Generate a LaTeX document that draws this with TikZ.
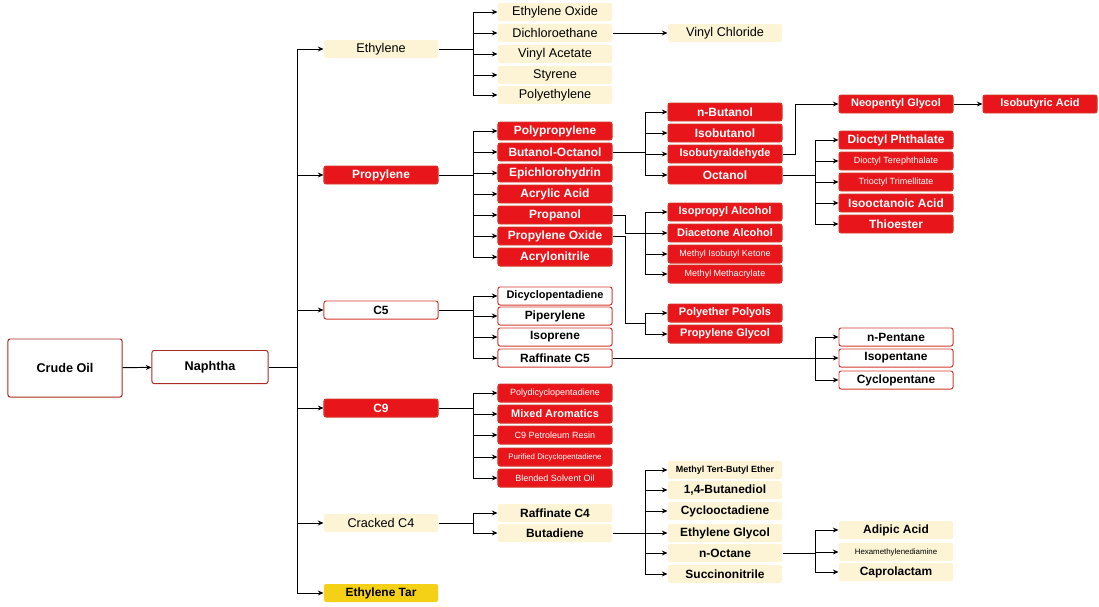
\documentclass[tikz,border=0pt]{standalone}
\usepackage{fontspec}
\setmainfont{Liberation Sans}
\usetikzlibrary{arrows.meta}
\definecolor{redfill}{HTML}{E8161B}
\definecolor{redline}{HTML}{D23A2E}
\definecolor{yelfill}{HTML}{FCF4D4}
\definecolor{goldfill}{HTML}{F4D016}
\newcommand\fm{\fontsize{7.8}{9}\selectfont}
\newcommand\fs{\fontsize{6.4}{7}\selectfont}
\newcommand\ft{\fontsize{5.6}{6}\selectfont}
\tikzset{
  box/.style={rounded corners=1.5pt, minimum width=2.85cm, minimum height=0.45cm,
    inner sep=1pt, font=\fontsize{9}{10}\selectfont},
  yel/.style={box, fill=yelfill},
  redb/.style={box, fill=redfill, draw=redline, text=white, font=\bfseries\fontsize{8.5}{10}\selectfont},
  wht/.style={box, fill=white, draw=redline, font=\bfseries\fontsize{8.5}{10}\selectfont},
  gold/.style={box, fill=goldfill, font=\bfseries\fontsize{8.5}{10}\selectfont},
  arr/.style={-{Stealth[length=4pt,width=3.5pt]}},
}
\begin{document}
\begin{tikzpicture}[x=0.025cm, y=-0.025cm, line width=0.7pt]
    \useasboundingbox (0,0) rectangle (1099,606);
    % roots
    \node[box, fill=white, draw=redline!80!black, minimum width=2.85cm, minimum height=1.45cm,
      font=\bfseries\fontsize{9}{11}\selectfont] (crude) at (65,368) {Crude Oil};
    \node[box, fill=white, draw=redline!80!black, minimum width=2.9cm, minimum height=0.825cm,
      font=\bfseries\fontsize{9}{11}\selectfont] (naph) at (210,367) {Naphtha};
    \draw[arr] (crude) -- (naph);
    \coordinate (t0) at (297,0);
    \coordinate (t1) at (473,0);
    \coordinate (jog) at (625,0);
    \coordinate (t2) at (645,0);
    \coordinate (t3) at (815,0);
    % first level
    \node[yel] (eth) at (381,49) {Ethylene};
    \node[redb] (pro) at (381,175) {Propylene};
    \node[wht] (cfv) at (381,310) {C5};
    \node[redb] (cnn) at (381,408) {C9};
    \node[yel] (cfr) at (381,523) {Cracked C4};
    \node[gold] (tar) at (381,593) {Ethylene Tar};
    \draw (naph.east) -- (naph.east -| t0);
    \draw (eth.west -| t0) -- (tar.west -| t0);
    \foreach \n in {eth,pro,cfv,cnn,cfr,tar}
      \draw[arr] (\n.west -| t0) -- (\n.west);
    % ethylene
    \foreach \n/\y/\t in {eox/12/Ethylene Oxide, dce/33/Dichloroethane, vac/54/Vinyl Acetate,
        sty/75/Styrene, pet/95/Polyethylene}
      \node[yel] (\n) at (555,\y) {\t};
    \node[yel] (vcl) at (725,33) {Vinyl Chloride};
    \draw (eth.east) -- (eth.east -| t1);
    \draw (eox.west -| t1) -- (pet.west -| t1);
    \foreach \n in {eox,dce,vac,sty,pet}
      \draw[arr] (\n.west -| t1) -- (\n.west);
    \draw[arr] (dce) -- (vcl);
    % propylene
    \foreach \n/\y/\t in {ppl/131/Polypropylene, bo/152/Butanol-Octanol, ech/173/Epichlorohydrin,
        aca/194/Acrylic Acid, pnl/215/Propanol, pox/236/Propylene Oxide, acn/257/Acrylonitrile}
      \node[redb] (\n) at (555,\y) {\t};
    \draw (pro.east) -- (pro.east -| t1);
    \draw (ppl.west -| t1) -- (acn.west -| t1);
    \foreach \n in {ppl,bo,ech,aca,pnl,pox,acn}
      \draw[arr] (\n.west -| t1) -- (\n.west);
    % butanol-octanol
    \foreach \n/\y/\t in {nbu/112/n-Butanol, ibu/133/Isobutanol, iba/154/{\fm Isobutyraldehyde},
        oct/175/Octanol}
      \node[redb] (\n) at (725,\y) {\t};
    \draw (bo.east) -- (bo.east -| t2);
    \draw (nbu.west -| t2) -- (oct.west -| t2);
    \foreach \n in {nbu,ibu,iba,oct}
      \draw[arr] (\n.west -| t2) -- (\n.west);
    \node[redb] (npg) at (896,104) {\fm Neopentyl Glycol};
    \node[redb] (iya) at (1040,104) {\fm Isobutyric Acid};
    \draw[arr] (iba.east) -- ++(13,0) |- (npg.west);
    \draw[arr] (npg) -- (iya);
    % octanol
    \foreach \n/\y/\t in {dop/140/Dioctyl Phthalate, dot/161/{\fs\mdseries Dioctyl Terephthalate},
        tot/182/{\fs\mdseries Trioctyl Trimellitate}, ioa/203/Isooctanoic Acid, thi/224/Thioester}
      \node[redb] (\n) at (896,\y) {\t};
    \draw (oct.east) -- (oct.east -| t3);
    \draw (dop.west -| t3) -- (thi.west -| t3);
    \foreach \n in {dop,dot,tot,ioa,thi}
      \draw[arr] (\n.west -| t3) -- (\n.west);
    % propanol
    \foreach \n/\y/\t in {ipa/212/{\fm Isopropyl Alcohol}, dac/233/{\fm Diacetone Alcohol},
        mik/254/{\fs\mdseries Methyl Isobutyl Ketone}, mma/274/{\fs\mdseries Methyl Methacrylate}}
      \node[redb] (\n) at (725,\y) {\t};
    \draw (pnl.east) -| (jog |- dac.west) -- (dac.west -| t2);
    \draw (ipa.west -| t2) -- (mma.west -| t2);
    \foreach \n in {ipa,dac,mik,mma}
      \draw[arr] (\n.west -| t2) -- (\n.west);
    % propylene oxide
    \node[redb] (ppo) at (725,313) {\fm Polyether Polyols};
    \node[redb] (pgl) at (725,334) {\fm Propylene Glycol};
    \coordinate (pj) at (645,323);
    \draw (pox.east) -| (jog |- pj) -- (pj);
    \draw (ppo.west -| t2) -- (pgl.west -| t2);
    \foreach \n in {ppo,pgl}
      \draw[arr] (\n.west -| t2) -- (\n.west);
    % C5
    \foreach \n/\y/\t in {dcp/296/{\fm Dicyclopentadiene}, pip/316/Piperylene, iso/337/Isoprene,
        rfv/358/Raffinate C5}
      \node[wht] (\n) at (555,\y) {\t};
    \draw (cfv.east) -- (cfv.east -| t1);
    \draw (dcp.west -| t1) -- (rfv.west -| t1);
    \foreach \n in {dcp,pip,iso,rfv}
      \draw[arr] (\n.west -| t1) -- (\n.west);
    \foreach \n/\y/\t in {npe/337/n-Pentane, ipe/358/Isopentane, cpe/380/Cyclopentane}
      \node[wht] (\n) at (896,\y) {\t};
    \draw (rfv.east) -- (rfv.east -| t3);
    \draw (npe.west -| t3) -- (cpe.west -| t3);
    \foreach \n in {npe,ipe,cpe}
      \draw[arr] (\n.west -| t3) -- (\n.west);
    % C9
    \foreach \n/\y/\t in {pdc/393/{\fs\mdseries Polydicyclopentadiene}, mar/414/{\fm Mixed Aromatics},
        cpr/435/{\fs\mdseries C9 Petroleum Resin}, pud/457/{\ft\mdseries Purified Dicyclopentadiene},
        bso/478/{\fs\mdseries Blended Solvent Oil}}
      \node[redb] (\n) at (555,\y) {\t};
    \draw (cnn.east) -- (cnn.east -| t1);
    \draw (pdc.west -| t1) -- (bso.west -| t1);
    \foreach \n in {pdc,mar,cpr,pud,bso}
      \draw[arr] (\n.west -| t1) -- (\n.west);
    % cracked C4
    \node[yel, font=\bfseries\fontsize{8.5}{10}\selectfont] (rfc) at (555,513) {Raffinate C4};
    \node[yel, font=\bfseries\fontsize{8.5}{10}\selectfont] (but) at (555,533) {Butadiene};
    \draw (cfr.east) -- (cfr.east -| t1);
    \draw (rfc.west -| t1) -- (but.west -| t1);
    \foreach \n in {rfc,but}
      \draw[arr] (\n.west -| t1) -- (\n.west);
    \foreach \n/\y/\t in {mtb/470/{\fs Methyl Tert-Butyl Ether}, bdo/490/{1,4-Butanediol},
        cod/511/Cyclooctadiene, egl/533/Ethylene Glycol, noc/553/n-Octane, sun/574/Succinonitrile}
      \node[yel, font=\bfseries\fontsize{8.5}{10}\selectfont] (\n) at (725,\y) {\t};
    \draw (but.east) -- (but.east -| t2);
    \draw (mtb.west -| t2) -- (sun.west -| t2);
    \foreach \n in {mtb,bdo,cod,egl,noc,sun}
      \draw[arr] (\n.west -| t2) -- (\n.west);
    \foreach \n/\y/\t in {adi/530/Adipic Acid, hmd/552/{\ft\mdseries Hexamethylenediamine},
        cap/572/Caprolactam}
      \node[yel, font=\bfseries\fontsize{8.5}{10}\selectfont] (\n) at (896,\y) {\t};
    \draw (noc.east) -- (noc.east -| t3);
    \draw (adi.west -| t3) -- (cap.west -| t3);
    \foreach \n in {adi,hmd,cap}
      \draw[arr] (\n.west -| t3) -- (\n.west);
\end{tikzpicture}
\end{document}
